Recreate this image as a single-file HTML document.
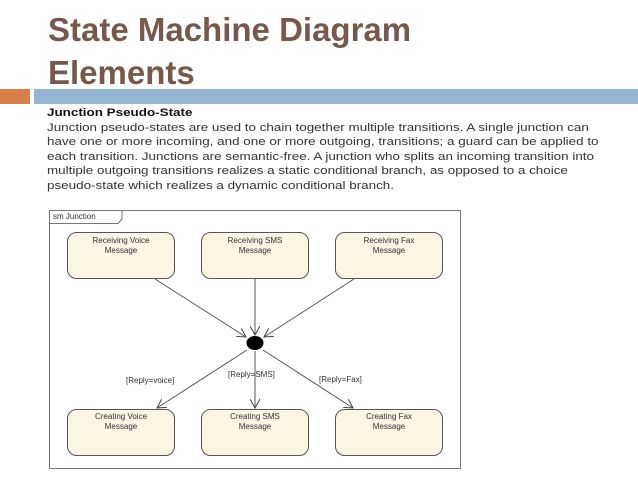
<!DOCTYPE html>
<html><head><meta charset="utf-8"><style>
body{margin:0;width:638px;height:479px;background:#fff;position:relative;overflow:hidden;font-family:"Liberation Sans",sans-serif}
.t{position:absolute;left:48px;top:8px;font-size:33px;font-weight:bold;color:#76594b;line-height:43px}
.p{position:absolute;left:47px;top:106px;font-size:11.2px;color:#333;line-height:14.6px;white-space:nowrap;transform:scaleX(1.2);transform-origin:0 0}
</style></head><body>
<div class="t">State Machine Diagram<br>Elements</div>
<div style="position:absolute;left:0;top:89px;width:30px;height:15px;background:#d9804a"></div>
<div style="position:absolute;left:34px;top:89px;width:604px;height:15px;background:#94b5d4"></div>
<div class="p"><b style="color:#111">Junction Pseudo-State</b><br>Junction pseudo-states are used to chain together multiple transitions. A single junction can<br>have one or more incoming, and one or more outgoing, transitions; a guard can be applied to<br>each transition. Junctions are semantic-free. A junction who splits an incoming transition into<br>multiple outgoing transitions realizes a static conditional branch, as opposed to a choice<br>pseudo-state which realizes a dynamic conditional branch.</div>
<svg style="position:absolute;left:0;top:0" width="638" height="479" font-family="Liberation Sans,sans-serif" font-size="8" fill="#333">
<defs><marker id="a" markerWidth="10" markerHeight="10" refX="9" refY="5" orient="auto" markerUnits="userSpaceOnUse"><path d="M0,0L9,5L0,10" fill="none" stroke="#444" stroke-width="1"/></marker></defs>
<rect x="49.5" y="210.5" width="411" height="258" fill="#fff" stroke="#777"/>
<path d="M49.5,223.5H118L122,219V210.5" fill="none" stroke="#777"/>
<text x="53" y="219">sm Junction</text>
<g fill="#fbf5e4" stroke="#555">
<rect x="67.5" y="232.5" width="107" height="46" rx="9"/>
<rect x="201.5" y="232.5" width="107" height="46" rx="9"/>
<rect x="335.5" y="232.5" width="107" height="46" rx="9"/>
<rect x="67.5" y="409.5" width="107" height="46" rx="9"/>
<rect x="201.5" y="409.5" width="107" height="46" rx="9"/>
<rect x="335.5" y="409.5" width="107" height="46" rx="9"/>
</g>
<g text-anchor="middle">
<text x="121" y="243">Receiving Voice</text><text x="121" y="253">Message</text>
<text x="255" y="243">Receiving SMS</text><text x="255" y="253">Message</text>
<text x="389" y="243">Receiving Fax</text><text x="389" y="253">Message</text>
<text x="121" y="419">Creating Voice</text><text x="121" y="429">Message</text>
<text x="255" y="419">Creating SMS</text><text x="255" y="429">Message</text>
<text x="389" y="419">Creating Fax</text><text x="389" y="429">Message</text>
</g>
<g stroke="#555" fill="none" marker-end="url(#a)">
<line x1="155" y1="279" x2="246" y2="337"/>
<line x1="255" y1="279" x2="255" y2="335"/>
<line x1="354" y1="279" x2="264" y2="337"/>
<line x1="247" y1="350" x2="157" y2="408"/>
<line x1="255" y1="351" x2="255" y2="408"/>
<line x1="263" y1="350" x2="353" y2="408"/>
</g>
<ellipse cx="255" cy="343" rx="8.5" ry="7" fill="#000"/>
<text x="126" y="383">[Reply=voice]</text>
<text x="228" y="377">[Reply=SMS]</text>
<text x="319" y="382">[Reply=Fax]</text>
</svg>
</body></html>
